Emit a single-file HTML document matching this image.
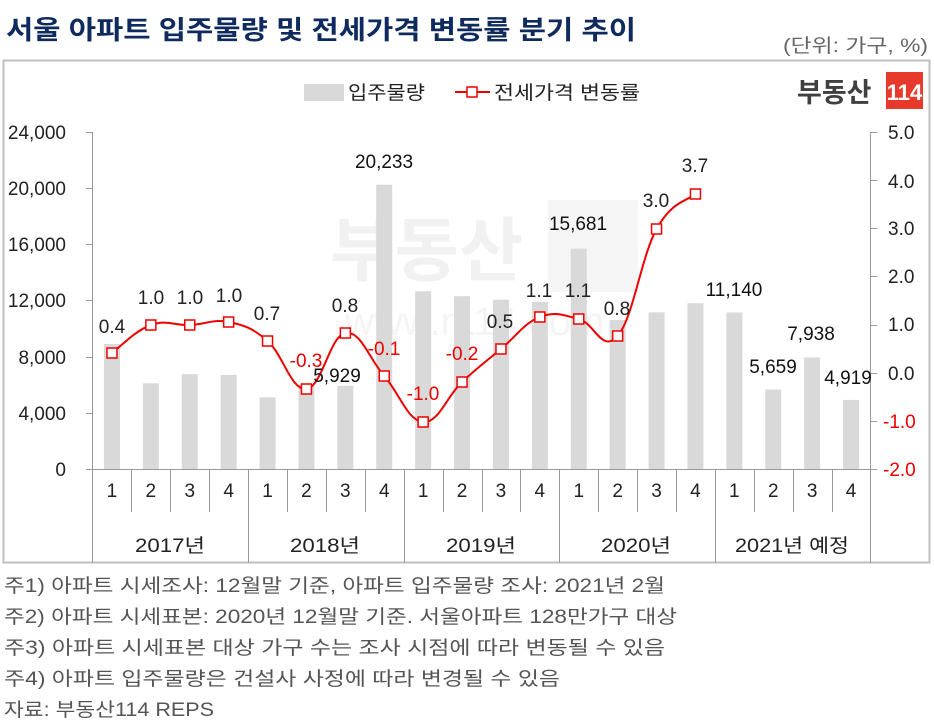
<!DOCTYPE html>
<html><head><meta charset="utf-8"><style>
body{margin:0;background:#fff;width:934px;height:726px;overflow:hidden;font-family:"Liberation Sans","Noto Sans CJK KR",sans-serif}
svg{display:block}
</style></head><body>
<svg width="934" height="726" viewBox="0 0 934 726" font-family="'Liberation Sans','Noto Sans CJK KR',sans-serif">
<text x="6" y="39" font-size="26" font-weight="bold" fill="#0e2a5e" textLength="630" lengthAdjust="spacingAndGlyphs">서울 아파트 입주물량 및 전세가격 변동률 분기 추이</text>
<text x="928" y="52" font-size="19" fill="#666" text-anchor="end" textLength="145" lengthAdjust="spacingAndGlyphs">(단위: 가구, %)</text>
<rect x="3.5" y="60.5" width="926" height="502" fill="none" stroke="#bfbfbf" stroke-width="2"/>
<rect x="304" y="84" width="40" height="17" fill="#d9d9d9"/>
<text x="348" y="99" font-size="19" fill="#222" textLength="77" lengthAdjust="spacingAndGlyphs">입주물량</text>
<line x1="455" y1="92" x2="490" y2="92" stroke="#e00" stroke-width="2"/>
<rect x="467" y="87" width="10" height="10" fill="#fff" stroke="#e00" stroke-width="1.5"/>
<text x="494" y="99" font-size="19" fill="#222" textLength="146" lengthAdjust="spacingAndGlyphs">전세가격 변동률</text>
<text x="797" y="102" font-size="27" font-weight="bold" fill="#404040">부동산</text>
<rect x="886" y="72" width="37" height="37" fill="#e83a2c"/>
<text x="904.5" y="100" font-size="22" font-weight="bold" fill="#fff" text-anchor="middle">114</text>
<text x="330" y="275" font-size="70" font-weight="bold" fill="#000" opacity="0.05">부동산</text>
<rect x="548" y="200" width="90" height="92" fill="#000" opacity="0.04"/>
<text x="345" y="335" font-size="40" fill="#000" opacity="0.04">www.r114.com</text>
<g font-size="19" fill="#222" text-anchor="end">
<text x="66" y="139">24,000</text><text x="66" y="195">20,000</text><text x="66" y="251">16,000</text>
<text x="66" y="307">12,000</text><text x="66" y="364">8,000</text><text x="66" y="420">4,000</text><text x="66" y="476">0</text>
</g>
<g font-size="19" fill="#222">
<text x="888" y="139">5.0</text><text x="888" y="188">4.0</text><text x="888" y="235">3.0</text>
<text x="888" y="283">2.0</text><text x="888" y="331">1.0</text><text x="888" y="380">0.0</text>
</g>
<g font-size="19" fill="#e00"><text x="883" y="428">-1.0</text><text x="883" y="476">-2.0</text></g>
<g stroke="#999" stroke-width="1">
<line x1="92.5" y1="132" x2="92.5" y2="563"/><line x1="870.5" y1="132" x2="870.5" y2="563"/>
<line x1="86" y1="132.5" x2="92" y2="132.5"/><line x1="86" y1="188.5" x2="92" y2="188.5"/><line x1="86" y1="244.5" x2="92" y2="244.5"/><line x1="86" y1="300.5" x2="92" y2="300.5"/><line x1="86" y1="357.5" x2="92" y2="357.5"/><line x1="86" y1="413.5" x2="92" y2="413.5"/>
<line x1="871" y1="132.5" x2="877" y2="132.5"/><line x1="871" y1="180.5" x2="877" y2="180.5"/><line x1="871" y1="228.5" x2="877" y2="228.5"/><line x1="871" y1="276.5" x2="877" y2="276.5"/><line x1="871" y1="325.5" x2="877" y2="325.5"/><line x1="871" y1="373.5" x2="877" y2="373.5"/><line x1="871" y1="421.5" x2="877" y2="421.5"/>
<line x1="86" y1="469.5" x2="877" y2="469.5"/>
</g>
<g id="bars" fill="#d9d9d9"></g>
<g id="grid" stroke="#999" stroke-width="1"></g>
<g id="qlab" font-size="19" fill="#222" text-anchor="middle"></g>
<g font-size="19" fill="#222" text-anchor="middle">
<text x="170" y="552" textLength="70" lengthAdjust="spacingAndGlyphs">2017년</text><text x="325" y="552" textLength="70" lengthAdjust="spacingAndGlyphs">2018년</text><text x="481" y="552" textLength="70" lengthAdjust="spacingAndGlyphs">2019년</text><text x="636" y="552" textLength="70" lengthAdjust="spacingAndGlyphs">2020년</text><text x="792" y="552" textLength="114" lengthAdjust="spacingAndGlyphs">2021년 예정</text>
</g>
<path id="line" fill="none" stroke="#e00" stroke-width="2"/>
<g id="pts"></g>
<g font-size="19" fill="#222" text-anchor="middle">
<text x="112" y="333">0.4</text><text x="151" y="304">1.0</text><text x="190" y="304">1.0</text><text x="229" y="302">1.0</text>
<text x="267" y="320">0.7</text><text x="345" y="312">0.8</text><text x="500" y="328">0.5</text><text x="539" y="297">1.1</text>
<text x="578" y="297">1.1</text><text x="617" y="315">0.8</text><text x="656" y="207">3.0</text><text x="695" y="172">3.7</text>
</g>
<g font-size="19" fill="#e00" text-anchor="middle">
<text x="306" y="367">-0.3</text><text x="384" y="355">-0.1</text><text x="423" y="400">-1.0</text><text x="462" y="360">-0.2</text>
</g>
<g font-size="19" fill="#111" text-anchor="middle">
<text x="384" y="168">20,233</text><text x="578" y="230">15,681</text><text x="337" y="382">5,929</text>
<text x="734" y="296">11,140</text><text x="773" y="373">5,659</text><text x="811" y="340">7,938</text><text x="848" y="384">4,919</text>
</g>
<g font-size="19" fill="#555" lengthAdjust="spacingAndGlyphs">
<text x="4" y="592" textLength="661" lengthAdjust="spacingAndGlyphs">주1) 아파트 시세조사: 12월말 기준, 아파트 입주물량 조사: 2021년 2월</text>
<text x="4" y="623" textLength="673" lengthAdjust="spacingAndGlyphs">주2) 아파트 시세표본: 2020년 12월말 기준. 서울아파트 128만가구 대상</text>
<text x="4" y="654" textLength="661" lengthAdjust="spacingAndGlyphs">주3) 아파트 시세표본 대상 가구 수는 조사 시점에 따라 변동될 수 있음</text>
<text x="4" y="685" textLength="556" lengthAdjust="spacingAndGlyphs">주4) 아파트 입주물량은 건설사 사정에 따라 변경될 수 있음</text>
<text x="4" y="716" textLength="210" lengthAdjust="spacingAndGlyphs">자료: 부동산114 REPS</text>
</g>
</svg>
<script>
var NS="http://www.w3.org/2000/svg";
function el(p,t,a){var e=document.createElementNS(NS,t);for(var k in a)e.setAttribute(k,a[k]);document.getElementById(p).appendChild(e);return e;}
var vals=[8900,6100,6750,6700,5100,6000,5929,20233,12650,12300,12050,11900,15681,10600,11150,11800,11140,5659,7938,4919];
var w=38.9,x0=92.5;
for(var i=0;i<20;i++){var c=x0+w*(i+.5);var h=vals[i]/4000*56.2;
el("bars","rect",{x:c-8,y:469-h,width:16,height:h});
var t=el("qlab","text",{x:c,y:497});t.textContent=(i%4)+1;
if(i>0){var xx=Math.round(x0+w*i)+.5;el("grid","line",{x1:xx,y1:470,x2:xx,y2:(i%4==0)?563:512});}}
var py=[353,325,325,322,341,389,333,376,422,382,349,317,319,336,229,194];
var P=py.map(function(y,i){return [x0+w*(i+.5),y];});
var d="M"+P[0][0]+","+P[0][1];
for(var i=0;i<P.length-1;i++){var p0=P[Math.max(i-1,0)],p1=P[i],p2=P[i+1],p3=P[Math.min(i+2,P.length-1)];
var t=0.2;d+=" C"+(p1[0]+(p2[0]-p0[0])*t)+","+(p1[1]+(p2[1]-p0[1])*t)+" "+(p2[0]-(p3[0]-p1[0])*t)+","+(p2[1]-(p3[1]-p1[1])*t)+" "+p2[0]+","+p2[1];}
document.getElementById("line").setAttribute("d",d);
P.forEach(function(p){el("pts","rect",{x:p[0]-5,y:p[1]-5,width:10,height:10,fill:"#fff",stroke:"#e00","stroke-width":1.5});});
</script>
</body></html>
